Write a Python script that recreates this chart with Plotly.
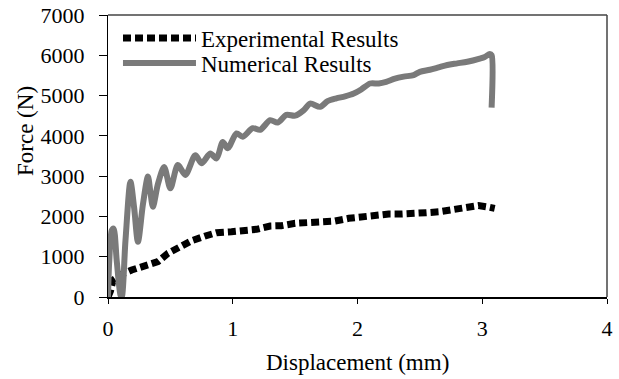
import plotly.graph_objects as go

# Experimental results (displacement mm, force N)
exp_x = [0.0, 0.02, 0.04, 0.10, 0.19, 0.31, 0.40, 0.48, 0.58, 0.67, 0.78, 0.87, 0.99,
         1.10, 1.19, 1.30, 1.39, 1.50, 1.62, 1.71, 1.82, 1.93, 2.03, 2.14, 2.25, 2.35,
         2.45, 2.55, 2.66, 2.77, 2.86, 2.97, 3.06, 3.10]
exp_f = [0, 150, 420, 550, 670, 777, 876, 1084, 1248, 1397, 1514, 1596, 1620,
         1645, 1680, 1762, 1770, 1829, 1844, 1869, 1886, 1953, 1993, 2035, 2060, 2060,
         2060, 2092, 2117, 2176, 2241, 2270, 2226, 2200]

# Numerical results
num_x = [0.0, 0.01, 0.03, 0.045, 0.07, 0.10, 0.11, 0.14, 0.18, 0.21, 0.24, 0.28, 0.32,
         0.34, 0.36, 0.40, 0.45, 0.50, 0.56, 0.62, 0.70, 0.75, 0.82, 0.87, 0.92, 0.96,
         1.03, 1.08, 1.16, 1.22, 1.30, 1.36, 1.43, 1.50, 1.57, 1.62, 1.70, 1.76, 1.83,
         1.90, 1.97, 2.03, 2.10, 2.17, 2.23, 2.30, 2.37, 2.45, 2.50, 2.58, 2.65, 2.72,
         2.80, 2.88, 2.98, 3.02, 3.06, 3.075, 3.075]
num_f = [0, 900, 1650, 1700, 900, 50, 0, 1400, 2860, 2200, 1370, 2300, 2990,
         2600, 2240, 2800, 3230, 2700, 3275, 3030, 3520, 3320, 3560, 3440, 3850, 3690,
         4060, 3980, 4190, 4150, 4390, 4330, 4520, 4500, 4640, 4800, 4720, 4860, 4930,
         4980, 5050, 5150, 5300, 5300, 5340, 5420, 5470, 5510, 5590, 5640, 5700, 5760,
         5800, 5840, 5920, 5960, 6030, 6000, 4700]

x_ticks = [0, 1, 2, 3, 4]
y_ticks = [0, 1000, 2000, 3000, 4000, 5000, 6000, 7000]

FONT = "Liberation Serif, Times New Roman, serif"

fig = go.Figure()
fig.add_trace(go.Scatter(x=exp_x, y=exp_f, mode="lines", name="Experimental Results",
                         legend="legend",
                         line=dict(color="black", width=7, dash="8px,4px")))
fig.add_trace(go.Scatter(x=num_x, y=num_f, mode="lines", name="Numerical Results",
                         legend="legend2",
                         line=dict(color="#7a7a7a", width=6, shape="spline", smoothing=0.8)))

leg_common = dict(xanchor="left", yanchor="middle", bgcolor="rgba(0,0,0,0)",
                  font=dict(size=23, family=FONT), itemwidth=73)

# plot area at page x 108-607, y 15-297 (body margin removed in post_script)
fig.update_layout(
    width=619, height=379,
    margin=dict(l=108, r=12, t=15, b=82),
    paper_bgcolor="white", plot_bgcolor="white",
    font=dict(family=FONT, size=22, color="black"),
    showlegend=True,
    legend=dict(x=0.02, y=(297 - 38) / 282, **leg_common),
    legend2=dict(x=0.02, y=(297 - 63) / 282, **leg_common),
    xaxis=dict(range=[0, 4], tickvals=x_ticks, ticktext=[str(v) for v in x_ticks],
               showgrid=False, zeroline=False, showline=True, linecolor="black",
               linewidth=2, ticks="outside", ticklen=5, tickcolor="black",
               ticklabelstandoff=6, ticklabeloverflow="allow",
               automargin=False, tickfont=dict(size=22, family=FONT)),
    yaxis=dict(range=[0, 7000], tickvals=y_ticks, ticktext=[str(v) for v in y_ticks],
               showgrid=False, zeroline=False, showline=True, linecolor="black",
               linewidth=1, ticks="outside", ticklen=8, tickcolor="black",
               ticklabelstandoff=10, ticklabeloverflow="allow",
               automargin=False, tickfont=dict(size=22, family=FONT)),
    shapes=[
        dict(type="line", xref="paper", yref="paper", x0=0, x1=1, y0=1, y1=1,
             line=dict(color="#444444", width=1.5)),
        dict(type="line", xref="paper", yref="paper", x0=1, x1=1, y0=0, y1=1,
             line=dict(color="#444444", width=1.5)),
    ],
    annotations=[
        dict(text="Force (N)", xref="paper", yref="paper", x=(25 - 108) / 499,
             y=(297 - 131) / 282, textangle=-90, showarrow=False,
             xanchor="center", yanchor="middle", font=dict(size=23, family=FONT)),
        dict(text="Displacement (mm)", xref="paper", yref="paper", x=0.5,
             y=(297 - 362) / 282, showarrow=False, xanchor="center",
             yanchor="middle", font=dict(size=23, family=FONT)),
    ],
)

fig.write_html("out.html", config={"displayModeBar": False},
               post_script="document.body.style.margin='0';document.body.style.padding='0';")
